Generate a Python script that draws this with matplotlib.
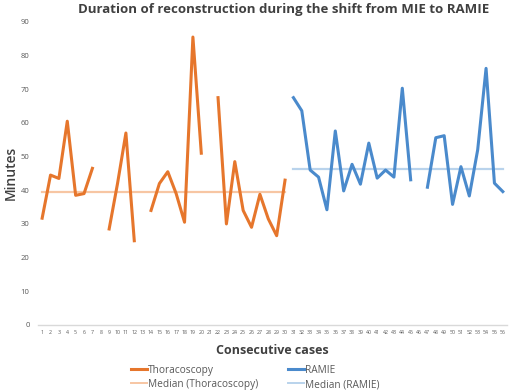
import numpy as np
import matplotlib
matplotlib.use("Agg")
import matplotlib.pyplot as plt
from matplotlib.lines import Line2D

nan = np.nan
cases = list(range(1, 57))
thoraco_cases = list(range(1, 31))
thoraco = [31.7, 44.5, 43.5, 60.5, 38.5, 39, 46.5, nan, 28.5, 42,
           57, 25, nan, 34, 42, 45.5, 39, 30.5, 85.5, 51,
           nan, 67.5, 30, 48.5, 34, 29, 38.8, 31.5, 26.5, 43]
ramie_cases = list(range(31, 57))
ramie = [67.5, 63.6, 46, 43.9, 34.2, 57.6, 39.8, 47.7, 41.8, 54,
         43.6, 46, 43.9, 70.3, 43.1, nan, 40.9, 55.6, 56.2, 35.8,
         47, 38.3, 52, 76.2, 42.1, 39.6]
median_thoraco = 39.6
median_ramie = 46.2

c_or = "#E6762C"
c_bl = "#4A8ACC"
c_or_m = "#F7C6A3"
c_bl_m = "#B9D3EC"
gray = "#595959"
dark = "#404040"

plt.rcParams['font.family'] = ['Open Sans', 'DejaVu Sans']
fig = plt.figure(figsize=(5.2, 3.91), dpi=100)
ax = fig.add_axes([0.073, 0.169, 0.902, 0.775])

ax.plot(thoraco_cases, [median_thoraco]*len(thoraco_cases), color=c_or_m, lw=1.6, zorder=2)
ax.plot(ramie_cases, [median_ramie]*len(ramie_cases), color=c_bl_m, lw=1.6, zorder=2)
ax.plot(thoraco_cases, thoraco, color=c_or, lw=2.2, zorder=3)
ax.plot(ramie_cases, ramie, color=c_bl, lw=2.2, zorder=3)

ax.set_xlim(0.5, 56.5)
ax.set_ylim(0, 90)
ax.set_yticks(range(0, 91, 10))
ax.set_xticks(cases)
ax.set_xticklabels([str(c) for c in cases], fontsize=3.8, color=gray)
ax.tick_params(axis='y', labelsize=5.5, labelcolor=gray, length=0, pad=6)
ax.tick_params(axis='x', length=0, pad=4)
for s in ['top', 'right', 'left']:
    ax.spines[s].set_visible(False)
ax.spines['bottom'].set_color("#D9D9D9")
ax.spines['bottom'].set_linewidth(1.0)

fig.text(0.546, 1 - 10/391, "Duration of reconstruction during the shift from MIE to RAMIE",
         fontsize=9.5, fontweight='bold', color=dark, ha='center', va='center')
fig.text(11/520, 1 - 173/391, "Minutes", fontsize=10, color=dark, fontweight='semibold',
         rotation=90, ha='center', va='center')
fig.text(272/520, 1 - 350/391, "Consecutive cases", fontsize=9, color=dark,
         fontweight='bold', ha='center', va='center')

handles = [Line2D([], [], color=c_or, lw=2.2),
           Line2D([], [], color=c_or_m, lw=1.4),
           Line2D([], [], color=c_bl, lw=2.2),
           Line2D([], [], color=c_bl_m, lw=1.4)]
labels = ["Thoracoscopy", "Median (Thoracoscopy)", "RAMIE", "Median (RAMIE)"]
leg = fig.legend(handles, labels, ncol=2, loc='upper left',
                 bbox_to_anchor=(131/520, 1 - 365/391),
                 frameon=False, fontsize=7.3, handlelength=1.58, handletextpad=0.1,
                 columnspacing=2.9, labelspacing=0.3, borderaxespad=0, borderpad=0)
for t in leg.get_texts():
    t.set_color(gray)

fig.savefig("out.png", dpi=100)
